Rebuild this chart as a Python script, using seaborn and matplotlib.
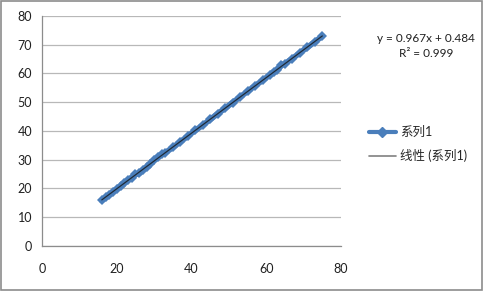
import matplotlib
matplotlib.use("Agg")
import matplotlib.pyplot as plt
import seaborn as sns
import pandas as pd
from matplotlib.lines import Line2D
from matplotlib.patches import Rectangle

x_vals = [16, 17, 18, 19, 20, 21, 22, 23, 24, 25, 26, 27, 28, 29, 30, 31, 32, 33,
          35, 37, 39, 41, 43, 45, 47, 49, 51, 53, 55, 57, 59, 61, 62, 63, 64, 65,
          67, 69, 71, 73, 75]
y_vals = [15.8, 16.9, 17.8, 18.9, 19.8, 20.9, 21.8, 22.9, 23.8, 24.9, 25.2, 26.5,
          27.4, 28.6, 30.0, 31.0, 31.9, 32.4, 34.3, 36.2, 38.2, 40.2, 42.0, 44.0,
          46.0, 47.9, 49.9, 51.8, 53.8, 55.7, 57.6, 59.5, 60.6, 61.2, 62.9, 63.4,
          65.2, 67.2, 69.1, 71.0, 73.0]
series_name = "系列1"
trend_name = "线性 (系列1)"
equation = "y = 0.967x + 0.484"
r2_text = "R² = 0.999"
x_ticks = [0, 20, 40, 60, 80]
y_ticks = [0, 10, 20, 30, 40, 50, 60, 70, 80]

sns.set_style("white")
plt.rcParams['font.family'] = ['Lato', 'Noto Sans CJK SC', 'DejaVu Sans']

df = pd.DataFrame({"x": x_vals, "y": y_vals})

fig = plt.figure(figsize=(4.83, 2.91), dpi=100)
ax = fig.add_axes([0.087, 0.155, 0.619, 0.79])

blue = "#4A7EBB"
sns.lineplot(data=df, x="x", y="y", ax=ax, color=blue, linewidth=4.2,
             marker="D", markersize=5.5, markeredgewidth=0, sort=False,
             legend=False, zorder=3)
sns.regplot(data=df, x="x", y="y", ax=ax, scatter=False, ci=None,
            line_kws=dict(color="#1f2a36", linewidth=0.9, zorder=4))

ax.set_xlim(0, 80)
ax.set_ylim(0, 80)
ax.set_xticks(x_ticks)
ax.set_yticks(y_ticks)
ax.set_xlabel("")
ax.set_ylabel("")
ax.grid(axis="y", color="#b8b8b8", linewidth=0.9)
ax.grid(axis="x", visible=False)
for side in ["top", "right"]:
    ax.spines[side].set_visible(False)
for side in ["left", "bottom"]:
    ax.spines[side].set_color("#8c8c8c")
    ax.spines[side].set_linewidth(0.9)
ax.tick_params(axis="both", direction="out", length=4, width=0.9,
               color="#8c8c8c", labelsize=9, labelcolor="#202020")
ax.tick_params(axis="x", pad=8)
ax.tick_params(axis="y", pad=3)

handles = [
    Line2D([0], [0], color=blue, linewidth=3, marker="D", markersize=5),
    Line2D([0], [0], color="#808080", linewidth=1.2),
]
fig.legend(handles, [series_name, trend_name], loc="center left",
           bbox_to_anchor=(0.74, 0.505), frameon=False, fontsize=9,
           handlelength=2.2, handletextpad=0.3, labelspacing=0.9)

fig.text(0.882, 0.868, equation, ha="center", va="center", fontsize=8.5,
         color="#202020")
fig.text(0.882, 0.815, r2_text, ha="center", va="center", fontsize=8.5,
         color="#202020")

fig.patches.append(Rectangle((0.002, 0.003), 0.995, 0.993, transform=fig.transFigure,
                             fill=False, edgecolor="#8c8c8c", linewidth=1.2))

fig.savefig("out.png", dpi=100)
